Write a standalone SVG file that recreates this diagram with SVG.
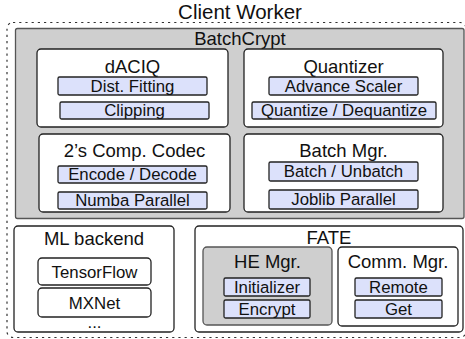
<svg xmlns="http://www.w3.org/2000/svg" width="465" height="339" viewBox="0 0 465 339">
  <style>
    text { font-family: "Liberation Sans", Arial, Helvetica, sans-serif; fill: #111; text-anchor: middle; }
    .title { font-size: 20.5px; }
    .head { font-size: 18.5px; }
    .item { font-size: 16.8px; }
    .frame { fill: none; stroke: #333; stroke-width: 1.2; stroke-dasharray: 2.2 4; }
    .shade { fill: #cfcfcf; stroke: #555; stroke-width: 1.3; }
    .panel { fill: #fff; stroke: #222; stroke-width: 1.3; }
    .bar { fill: #dce1fb; stroke: #222; stroke-width: 1.3; }
  </style>

  <!-- client worker boundary -->
  <g id="client-worker">
    <rect class="frame" x="7" y="22.5" width="459" height="315" rx="6"/>
    <text class="title" x="240" y="19">Client Worker</text>
  </g>

  <!-- BatchCrypt library -->
  <g id="batchcrypt">
    <rect class="shade" x="15.5" y="28.5" width="448.5" height="190" rx="2"/>
    <text class="head" x="240" y="45">BatchCrypt</text>
  </g>

  <g id="daciq">
    <rect class="panel" x="37" y="49" width="191" height="78" rx="4"/>
    <text class="head" x="132.5" y="73">dACIQ</text>
    <rect class="bar" x="58" y="77" width="149" height="18" rx="1.5"/>
    <text class="item" x="132.5" y="91.5">Dist. Fitting</text>
    <rect class="bar" x="60" y="102" width="149" height="17" rx="1.5"/>
    <text class="item" x="134.5" y="116">Clipping</text>
  </g>

  <g id="quantizer">
    <rect class="panel" x="244" y="49" width="199" height="78" rx="4"/>
    <text class="head" x="343.5" y="73">Quantizer</text>
    <rect class="bar" x="269" y="77" width="149" height="18" rx="1.5"/>
    <text class="item" x="343.5" y="91.5">Advance Scaler</text>
    <rect class="bar" x="252" y="102" width="184" height="17" rx="1.5"/>
    <text class="item" x="344" y="116">Quantize / Dequantize</text>
  </g>

  <g id="codec">
    <rect class="panel" x="39" y="134" width="191" height="78" rx="4"/>
    <text class="head" x="134.5" y="157">2’s Comp. Codec</text>
    <rect class="bar" x="58" y="166" width="149" height="17" rx="1.5"/>
    <text class="item" x="132.5" y="180">Encode / Decode</text>
    <rect class="bar" x="58" y="192" width="149" height="17" rx="1.5"/>
    <text class="item" x="132.5" y="206">Numba Parallel</text>
  </g>

  <g id="batch-mgr">
    <rect class="panel" x="244" y="134" width="199" height="78" rx="4"/>
    <text class="head" x="343.5" y="157">Batch Mgr.</text>
    <rect class="bar" x="269" y="162" width="149" height="19" rx="1.5"/>
    <text class="item" x="343.5" y="177">Batch / Unbatch</text>
    <rect class="bar" x="269" y="190" width="149" height="19" rx="1.5"/>
    <text class="item" x="343.5" y="205">Joblib Parallel</text>
  </g>

  <!-- machine learning backends -->
  <g id="ml-backend">
    <rect class="panel" x="14" y="226" width="160" height="106" rx="4"/>
    <text class="head" x="94" y="245">ML backend</text>
    <rect class="panel" x="38" y="258" width="113" height="27" rx="4"/>
    <text class="item" x="94.5" y="277.5">TensorFlow</text>
    <rect class="panel" x="38" y="288" width="113" height="29" rx="4"/>
    <text class="item" x="94.5" y="308.5">MXNet</text>
    <text class="item" x="94.5" y="328">...</text>
  </g>

  <!-- FATE framework -->
  <g id="fate">
    <rect class="panel" x="195" y="226" width="268" height="106" rx="4"/>
    <text class="head" x="329" y="244">FATE</text>
  </g>

  <g id="he-mgr">
    <rect class="shade" x="203" y="247" width="129" height="78" rx="4"/>
    <text class="head" x="267.5" y="268">HE Mgr.</text>
    <rect class="bar" x="224" y="278" width="86" height="18" rx="1.5"/>
    <text class="item" x="267" y="292.5">Initializer</text>
    <rect class="bar" x="224" y="300" width="86" height="18" rx="1.5"/>
    <text class="item" x="267" y="314.5">Encrypt</text>
  </g>

  <g id="comm-mgr">
    <rect class="panel" x="338" y="247" width="120" height="79" rx="4"/>
    <text class="head" x="398" y="268">Comm. Mgr.</text>
    <rect class="bar" x="355" y="278" width="87" height="18" rx="1.5"/>
    <text class="item" x="398.5" y="292.5">Remote</text>
    <rect class="bar" x="355" y="300" width="87" height="18" rx="1.5"/>
    <text class="item" x="398.5" y="314.5">Get</text>
  </g>

  <!-- no connectors in this diagram -->
  <g id="connectors"/>
</svg>
